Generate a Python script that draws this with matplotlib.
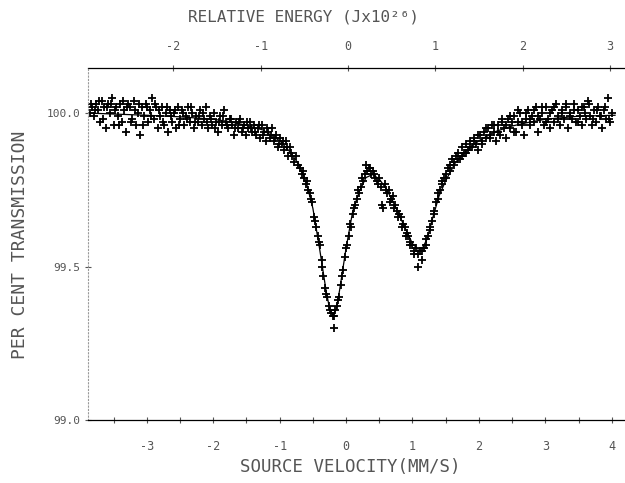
import numpy as np
import matplotlib
matplotlib.use("Agg")
import matplotlib.pyplot as plt
from matplotlib.ticker import FixedLocator, FormatStrFormatter

plt.rcParams['font.family'] = ['DejaVu Sans Mono', 'DejaVu Sans']
plt.rcParams['axes.unicode_minus'] = False

# fitted curve (source velocity mm/s, per cent transmission)
fit_v = [-3.86, -3.5, -3.0, -2.5, -2.0, -1.75, -1.5, -1.25, -1.0, -0.85, -0.7, -0.6,
         -0.5, -0.4, -0.3, -0.25, -0.2, -0.15, -0.1, -0.05, 0.0, 0.1, 0.2, 0.3, 0.4,
         0.5, 0.6, 0.7, 0.8, 0.9, 1.0, 1.08, 1.15, 1.22, 1.3, 1.4, 1.5, 1.65, 1.8,
         2.0, 2.25, 2.5, 2.75, 3.0, 3.5, 4.05]
fit_t = [100.0, 99.997, 99.993, 99.988, 99.98, 99.972, 99.96, 99.945, 99.91, 99.875,
         99.83, 99.775, 99.69, 99.56, 99.42, 99.365, 99.342, 99.36, 99.42, 99.49,
         99.56, 99.68, 99.745, 99.79, 99.80, 99.785, 99.755, 99.715, 99.668, 99.62,
         99.575, 99.557, 99.56, 99.59, 99.655, 99.73, 99.78, 99.84, 99.875, 99.91,
         99.94, 99.958, 99.97, 99.98, 99.99, 99.993]

# measured points, first half of the folded spectrum
vel = [-3.85, -3.82, -3.79, -3.76, -3.73, -3.70, -3.67, -3.64, -3.61, -3.58, -3.55,
       -3.52, -3.49, -3.46, -3.43, -3.40, -3.37, -3.34, -3.31, -3.28, -3.25, -3.22,
       -3.19, -3.16, -3.13, -3.10, -3.07, -3.04, -3.01, -2.98, -2.95, -2.92, -2.89,
       -2.86, -2.83, -2.80, -2.77, -2.74, -2.71, -2.68, -2.65, -2.62, -2.59, -2.56,
       -2.53, -2.50, -2.47, -2.44, -2.41, -2.38, -2.35, -2.32, -2.29, -2.26, -2.23,
       -2.20, -2.17, -2.14, -2.11, -2.08, -2.05, -2.02, -1.99, -1.96, -1.93, -1.90,
       -1.87, -1.84, -1.81, -1.78, -1.75, -1.72, -1.69, -1.66, -1.63, -1.60, -1.57,
       -1.54, -1.51, -1.48, -1.45, -1.42, -1.39, -1.36, -1.33, -1.30, -1.27, -1.24,
       -1.21, -1.18, -1.15, -1.12, -1.09, -1.06, -1.03, -1.00, -0.97, -0.94, -0.91,
       -0.88, -0.85, -0.82, -0.79, -0.76, -0.73, -0.70, -0.67, -0.64, -0.61, -0.58,
       -0.55, -0.52, -0.49, -0.46, -0.43, -0.40, -0.37, -0.34, -0.31, -0.28, -0.25,
       -0.22, -0.20, -0.18, -0.16, -0.14, -0.11, -0.08, -0.05, -0.02, 0.01, 0.04,
       0.07, 0.10, 0.13, 0.16, 0.19, 0.22, 0.25, 0.28, 0.31, 0.34, 0.37, 0.40, 0.43,
       0.46, 0.49, 0.52, 0.55, 0.58, 0.61, 0.64, 0.67, 0.70, 0.73, 0.76, 0.79, 0.82,
       0.85, 0.88, 0.91, 0.94, 0.97, 1.00, 1.03, 1.06, 1.09, 1.12, 1.15, 1.18, 1.21,
       1.24, 1.27, 1.30, 1.33, 1.36, 1.39, 1.42, 1.45, 1.48, 1.51, 1.54, 1.57, 1.60,
       1.63, 1.66, 1.69, 1.72, 1.75, 1.78, 1.81, 1.84, 1.87, 1.90, 1.93, 1.96, 1.99,
       2.02, 2.05, 2.08, 2.11, 2.14, 2.17, 2.20, 2.23, 2.26, 2.29, 2.32, 2.35, 2.38,
       2.41, 2.44, 2.47, 2.50, 2.53, 2.56, 2.59, 2.62, 2.65, 2.68, 2.71, 2.74, 2.77,
       2.80, 2.83, 2.86, 2.89, 2.92, 2.95, 2.98, 3.01, 3.04, 3.07, 3.10, 3.13, 3.16,
       3.19, 3.22, 3.25, 3.28, 3.31, 3.34, 3.37, 3.40, 3.43, 3.46, 3.49, 3.52, 3.55,
       3.58, 3.61, 3.64, 3.67, 3.70, 3.73, 3.76, 3.79, 3.82, 3.85, 3.88, 3.91, 3.94,
       3.97, 4.00]
trans = [100.00, 100.02, 99.99, 100.03, 100.01, 99.97, 100.04, 100.02, 99.95, 100.03,
         100.00, 100.05, 99.96, 100.02, 99.99, 100.03, 99.97, 100.01, 99.94, 100.03,
         100.02, 99.98, 100.04, 99.96, 100.00, 99.93, 100.02, 99.99, 100.03, 99.97,
         100.01, 100.05, 99.98, 100.02, 99.95, 99.99, 100.02, 99.96, 100.00, 99.94,
         100.01, 99.97, 100.00, 99.95, 100.02, 99.98, 100.01, 99.96, 99.99, 100.02,
         99.97, 100.00, 99.95, 99.99, 99.97, 100.01, 99.96, 99.98, 100.02, 99.95,
         99.99, 99.96, 100.00, 99.97, 99.94, 99.99, 99.96, 100.01, 99.97, 99.95,
         99.98, 99.96, 99.93, 99.97, 99.95, 99.98, 99.94, 99.96, 99.93, 99.95,
         99.97, 99.94, 99.96, 99.93, 99.95, 99.92, 99.96, 99.94, 99.91, 99.94,
         99.92, 99.95, 99.91, 99.93, 99.89, 99.92, 99.90, 99.88, 99.91, 99.86,
         99.89, 99.86, 99.84, 99.86, 99.83, 99.82, 99.80, 99.79, 99.77, 99.75,
         99.74, 99.71, 99.66, 99.63, 99.60, 99.57, 99.52, 99.47, 99.43, 99.40,
         99.37, 99.35, 99.34, 99.30, 99.36, 99.37, 99.40, 99.44, 99.49, 99.53,
         99.57, 99.60, 99.63, 99.67, 99.70, 99.72, 99.74, 99.76, 99.78, 99.80,
         99.81, 99.82, 99.80, 99.81, 99.79, 99.78, 99.79, 99.76, 99.69, 99.77,
         99.74, 99.75, 99.72, 99.73, 99.70, 99.68, 99.67, 99.66, 99.64, 99.63,
         99.61, 99.60, 99.58, 99.57, 99.55, 99.56, 99.54, 99.55, 99.52, 99.56,
         99.57, 99.60, 99.62, 99.65, 99.68, 99.71, 99.72, 99.75, 99.77, 99.79,
         99.80, 99.82, 99.83, 99.85, 99.84, 99.86, 99.87, 99.85, 99.89, 99.87,
         99.90, 99.88, 99.91, 99.89, 99.92, 99.90, 99.88, 99.93, 99.91, 99.94,
         99.92, 99.95, 99.93, 99.96, 99.94, 99.91, 99.96, 99.93, 99.97, 99.95,
         99.92, 99.98, 99.95, 99.97, 99.99, 99.94, 99.97, 100.00, 99.96, 99.93,
         99.98, 100.01, 99.96, 99.99, 99.97, 100.02, 99.94, 99.98, 100.00, 99.96,
         100.02, 99.98, 99.95, 100.01, 99.97, 100.03, 99.99, 99.96, 100.01, 99.98,
         100.02, 99.95, 100.00, 99.98, 100.03, 99.97, 100.01, 99.99, 99.96, 100.02,
         99.98, 100.04, 99.99, 99.96, 100.01, 99.97, 100.02, 99.99, 99.95, 100.01,
         99.98, 100.05, 99.97, 100.00]

# measured points, second half of the folded spectrum
vel_b = [-3.835, -3.775, -3.715, -3.655, -3.595, -3.535, -3.475, -3.415, -3.355,
         -3.295, -3.235, -3.175, -3.115, -3.055, -2.995, -2.935, -2.875, -2.815,
         -2.755, -2.695, -2.635, -2.575, -2.515, -2.455, -2.395, -2.335, -2.275,
         -2.215, -2.155, -2.095, -2.035, -1.975, -1.915, -1.855, -1.795, -1.735,
         -1.675, -1.615, -1.555, -1.495, -1.435, -1.375, -1.315, -1.255, -1.195,
         -1.135, -1.075, -1.015, -0.955, -0.895, -0.835, -0.655, -0.595, -0.535,
         -0.475, -0.415, -0.355, -0.295, -0.235, -0.175, -0.115, -0.055, 0.005,
         0.065, 0.125, 0.185, 0.245, 0.305, 0.365, 0.425, 0.485, 0.545, 0.605,
         0.665, 0.725, 0.785, 0.845, 0.905, 0.965, 1.025, 1.085, 1.145, 1.205,
         1.265, 1.325, 1.385, 1.445, 1.505, 1.565, 1.625, 1.685, 1.745, 1.805,
         1.865, 1.925, 1.985, 2.045, 2.105, 2.165, 2.225, 2.285, 2.345, 2.405,
         2.465, 2.525, 2.585, 2.645, 2.705, 2.765, 2.825, 2.885, 2.945, 3.005,
         3.065, 3.125, 3.185, 3.245, 3.305, 3.365, 3.425, 3.485, 3.545, 3.605,
         3.665, 3.725, 3.785, 3.845, 3.905, 3.965]
trans_b = [100.03, 100.01, 100.04, 99.98, 100.02, 100.03, 100.01, 99.96, 100.04,
           100.02, 99.97, 100.01, 100.03, 99.96, 100.02, 99.99, 100.03, 100.01,
           99.97, 100.02, 99.99, 100.01, 99.96, 100.00, 99.98, 100.02, 99.97,
           99.99, 100.00, 99.97, 99.98, 99.95, 99.97, 99.99, 99.96, 99.98,
           99.95, 99.97, 99.95, 99.97, 99.95, 99.94, 99.96, 99.93, 99.95,
           99.93, 99.92, 99.90, 99.91, 99.89, 99.87, 99.81, 99.78, 99.72,
           99.65, 99.58, 99.50, 99.41, 99.36, 99.34, 99.39, 99.47, 99.56,
           99.64, 99.69, 99.75, 99.79, 99.83, 99.82, 99.80, 99.77, 99.70, 99.75,
           99.71, 99.69, 99.66, 99.63, 99.60, 99.57, 99.54, 99.50, 99.55, 99.59,
           99.63, 99.67, 99.74, 99.78, 99.79, 99.81, 99.83, 99.85, 99.86, 99.87,
           99.89, 99.91, 99.93, 99.90, 99.95, 99.92, 99.96, 99.94, 99.98, 99.96,
           99.99, 99.94, 100.01, 99.97, 100.00, 99.98, 100.01, 99.99, 100.02, 99.97,
           100.00, 100.02, 99.98, 100.00, 100.03, 99.99, 100.01, 99.97, 100.02, 100.00,
           100.03, 99.98, 100.01, 99.99, 100.02, 99.98]

energy_ticks = [-2, -1, 0, 1, 2, 3]

fig = plt.figure(figsize=(6.25, 4.83), dpi=100)
ax = fig.add_axes([0.1408, 0.1304, 0.8592, 0.7288])

ax.plot(fit_v, fit_t, color='black', lw=0.9)
ax.plot(vel, trans, ls='none', marker='+', ms=6, mew=1.3, color='black')
ax.plot(vel_b, trans_b, ls='none', marker='+', ms=6, mew=1.3, color='black')

ax.set_xlim(-3.886, 4.20)
ax.set_ylim(99.0, 100.147)

ax.spines['right'].set_visible(False)
ax.spines['top'].set_visible(False)
ax.spines['left'].set_color('#999999')
ax.spines['left'].set_linestyle((0, (1, 2)))
ax.spines['left'].set_linewidth(0.8)
ax.spines['bottom'].set_linewidth(0.9)

ax.xaxis.set_major_locator(FixedLocator([-3, -2, -1, 0, 1, 2, 3, 4]))
ax.xaxis.set_minor_locator(FixedLocator([-3.5, -2.5, -1.5, -0.5, 0.5, 1.5, 2.5, 3.5]))
ax.xaxis.set_major_formatter(FormatStrFormatter('%d'))
ax.yaxis.set_major_locator(FixedLocator([99.0, 99.5, 100.0]))
ax.yaxis.set_major_formatter(FormatStrFormatter('%.1f'))
ax.tick_params(axis='x', which='both', direction='inout', length=5, width=0.8,
               labelsize=8.5, pad=12, colors='#555555')
ax.tick_params(axis='y', direction='inout', length=5, width=0.8, labelsize=8,
               pad=3, colors='#555555')

fig.text(350 / 625, 1 - 467 / 483, 'SOURCE VELOCITY(MM/S)', fontsize=12.5,
         color='#555555', ha='center', va='center')
fig.text(20 / 625, 1 - 245 / 483, 'PER CENT TRANSMISSION', fontsize=13,
         color='#555555', ha='center', va='center', rotation=90)
fig.text(303 / 625, 1 - 17 / 483, 'RELATIVE ENERGY (Jx10²⁶)', fontsize=11.5,
         color='#555555', ha='center', va='center')

sec = ax.secondary_xaxis('top', functions=(lambda v: (v - 0.03) / 1.315,
                                          lambda e: e * 1.315 + 0.03))
sec.set_xticks(energy_ticks)
sec.xaxis.set_major_formatter(FormatStrFormatter('%d'))
sec.spines['top'].set_linewidth(0.9)
sec.tick_params(direction='inout', length=5, width=0.8, labelsize=8.5, pad=8,
                colors='#555555')

fig.savefig('out.png', dpi=100)
